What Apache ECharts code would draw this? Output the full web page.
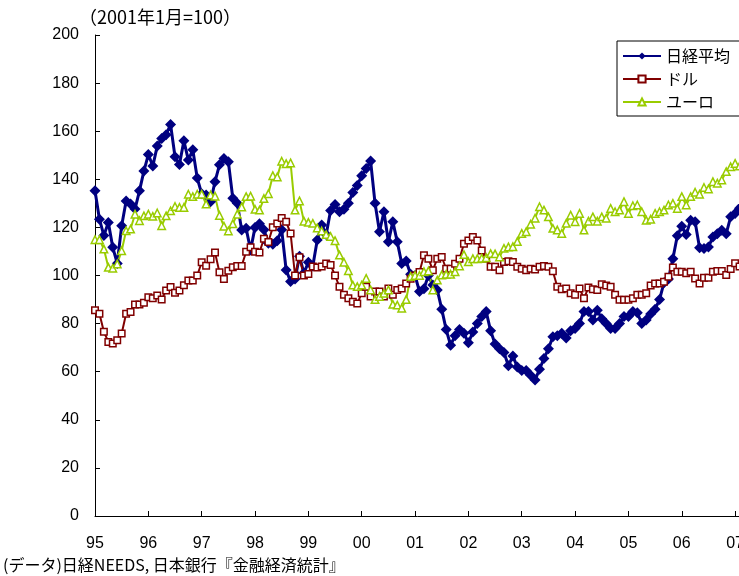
<!DOCTYPE html>
<html>
<head>
<meta charset="utf-8">
<script src="https://cdn.jsdelivr.net/npm/echarts@6/dist/echarts.min.js"></script>
<style>
  html, body { margin: 0; padding: 0; background: #fff; }
  #chart { width: 739px; height: 576px; }
</style>
</head>
<body>
<div id="chart"></div>
<script>
// Monthly index values, Jan 1995 onward (Jan 2001 = 100)
const yearLabels = ['95','96','97','98','99','00','01','02','03','04','05','06','07'];

const nikkei = [
  135.2,123.4,116.6,122,111.7,105,120.7,131,129.7,127.6,135.2,143.4,
  150.3,145.5,153.8,157,158.5,162.8,149.4,146.2,156,148,152.3,140.5,
  134,133.5,130.7,139,146,148.7,147.3,132.1,130,118.9,119.6,110.6,
  120,121.5,119,113.4,113,114.5,119,102.3,97.5,98.5,108,101,
  105.5,104,114.8,121,117,127,129.5,126.5,127.5,130,134.5,137.4,
  141.5,144.5,147.6,130,118.2,126.5,114,122.4,114,105,106,100.5,
  100,93.3,94.5,100,96,94,86,77.5,71,75,77.5,76,
  72,76.5,80,83,85,77,71.5,69.5,68,62.5,66.5,62,
  60.5,60.5,58.5,56.6,61,65.5,69.5,74.5,75,76,74,77,
  78,80,85,85,81.5,85.5,82,80,78,78,80,83,
  83,85,84.5,80,81.5,84,86,90,97,98.5,107,116.5,
  120.5,117,123,122.3,111.5,111.2,111.9,116,117.4,118.8,117.4,124.4,
  125.8,128
];

const dollar = [
  85.5,84.1,76.6,72.4,71.7,73.1,75.9,84.1,84.8,87.9,87.9,88.7,
  91,90.5,91.7,90,93.8,95.2,92.8,93.8,95.9,97.9,97.9,100,
  105.5,104.1,106.8,109.6,101.3,98.5,102,103.4,104,104,109.9,111.7,
  109.9,109.6,115.3,113.9,120.1,121.6,123.9,122.3,117.5,100,107.6,100,
  100.6,103.7,103.3,103.7,105,104.4,100,95.3,92,90.5,89.1,88.4,
  92.6,95.3,91.3,93.3,93.3,91.3,94.6,92,94,94.6,96.7,98.7,
  100,101.5,108.4,107,102.2,107,107.7,102.8,102.8,104.9,107,113.2,
  114.6,116,114.6,110.4,107,103.6,103.6,102.2,105.6,105.9,105.6,103.6,
  102.8,102.2,102.8,102.5,103.6,104,103.6,101.8,95.3,94.3,94.6,92.6,
  92,94.6,90.5,95,94.3,94,96.4,95.8,95.3,92,89.9,89.9,
  89.9,90.5,92,92,92.6,95.8,96.7,96.7,97.4,99.5,103.3,101.6,
  101.6,100.9,101.6,98.8,96.7,99.1,99.1,101.6,101.9,101.9,100.2,102.7,
  105.1,103.7
];

const euro = [
  114.9,114.9,111,103.4,103,104.8,110.3,118.6,119.3,125.5,122.8,124.8,
  125.5,124.6,126,120.7,124.8,126.9,128.7,128.3,128.3,133.8,132.8,133.8,
  133.8,129.7,133.5,133,125,120.5,118.5,121.5,125.5,128.5,132.8,133,
  127.5,127.2,132,134,141.5,141,147.5,146.5,146.8,127.2,131,122.6,
  122.1,121.7,119.8,118.5,117,116.2,114.5,108.5,105.5,102,96,95.4,
  96,98.8,94,90,91.3,92.6,94,88,87.7,86.4,90,99.6,
  100,100,101.6,101.9,94,98.1,100.2,100.5,100.5,101.6,104,108.7,
  105.7,107,107,107.2,107.4,109.1,109,107.7,111.3,111.9,112,114.1,
  117.5,118.2,121.3,123.8,128.6,127.2,124.4,119.6,118.9,117.5,121.7,125.1,
  122.4,125.8,118.9,122.6,124.4,122.6,124.4,123.8,127.9,126.5,127.2,130.7,
  125.8,129,129.3,126.5,123,123.4,125.8,126.5,127.2,129.3,130,127.9,
  132.8,129.3,132.8,134.6,133.8,136.6,136,139,138.4,139.7,143.2,145.2,
  146.6,145.5
];

const seriesNames = ['日経平均', 'ドル', 'ユーロ'];
const titleText = '（2001年1月=100）';
const sourceText = '(データ)日経NEEDS, 日本銀行『金融経済統計』';

// pair each monthly value with its month index (0 = Jan 1995)
const toPoints = arr => arr.map((v, i) => [i, v]);

const jpFont = "'Noto Sans CJK JP', sans-serif";
const numFont = "'Liberation Sans', 'Noto Sans CJK JP', sans-serif";

const chart = echarts.init(document.getElementById('chart'), null, { renderer: 'canvas' });

chart.setOption({
  animation: false,
  backgroundColor: '#fff',
  graphic: [
    { type: 'text', left: 79, top: 8,
      style: { text: titleText, font: "18px " + jpFont, fill: '#000' } },
    { type: 'text', left: 3, top: 557,
      style: { text: sourceText, font: "16px " + jpFont, fill: '#000' } }
  ],
  legend: {
    orient: 'vertical',
    left: 617, top: 41,
    itemWidth: 38, itemHeight: 9, itemGap: 7,
    padding: [7, 40, 6, 5],
    borderColor: '#000', borderWidth: 1,
    backgroundColor: '#fff',
    textStyle: { fontFamily: jpFont, fontSize: 16, color: '#000' },
    data: seriesNames
  },
  grid: { left: 95, top: 35, width: 649, height: 481, containLabel: false, outerBoundsMode: 'none' },
  xAxis: {
    type: 'value', min: 0, max: 146, interval: 12,
    splitLine: { show: false },
    axisLine: { lineStyle: { color: '#000', width: 1 } },
    axisTick: { inside: true, length: 5, lineStyle: { color: '#000' } },
    axisLabel: {
      margin: 20, fontSize: 16, fontFamily: numFont, color: '#000',
      formatter: v => (v % 12 === 0 ? (yearLabels[v / 12] || '') : '')
    }
  },
  yAxis: {
    type: 'value', min: 0, max: 200, interval: 20,
    splitLine: { show: false },
    axisLine: { show: true, lineStyle: { color: '#000', width: 1 } },
    axisTick: { show: true, inside: true, length: 5, lineStyle: { color: '#000' } },
    axisLabel: { margin: 16, fontSize: 16, fontFamily: numFont, color: '#000' }
  },
  series: [
    {
      name: seriesNames[0], type: 'line', data: toPoints(nikkei),
      symbol: 'diamond', symbolSize: 11, showAllSymbol: true,
      lineStyle: { color: '#000080', width: 3 },
      itemStyle: { color: '#000080' }
    },
    {
      name: seriesNames[1], type: 'line', data: toPoints(dollar),
      symbol: 'rect', symbolSize: 6.5, showAllSymbol: true,
      lineStyle: { color: '#800000', width: 2 },
      itemStyle: { color: '#fff', borderColor: '#800000', borderWidth: 1.5 }
    },
    {
      name: seriesNames[2], type: 'line', data: toPoints(euro),
      symbol: 'triangle', symbolSize: 7.5, showAllSymbol: true,
      lineStyle: { color: '#99CC00', width: 2 },
      itemStyle: { color: '#fff', borderColor: '#99CC00', borderWidth: 1.5 }
    }
  ]
});
</script>
</body>
</html>
